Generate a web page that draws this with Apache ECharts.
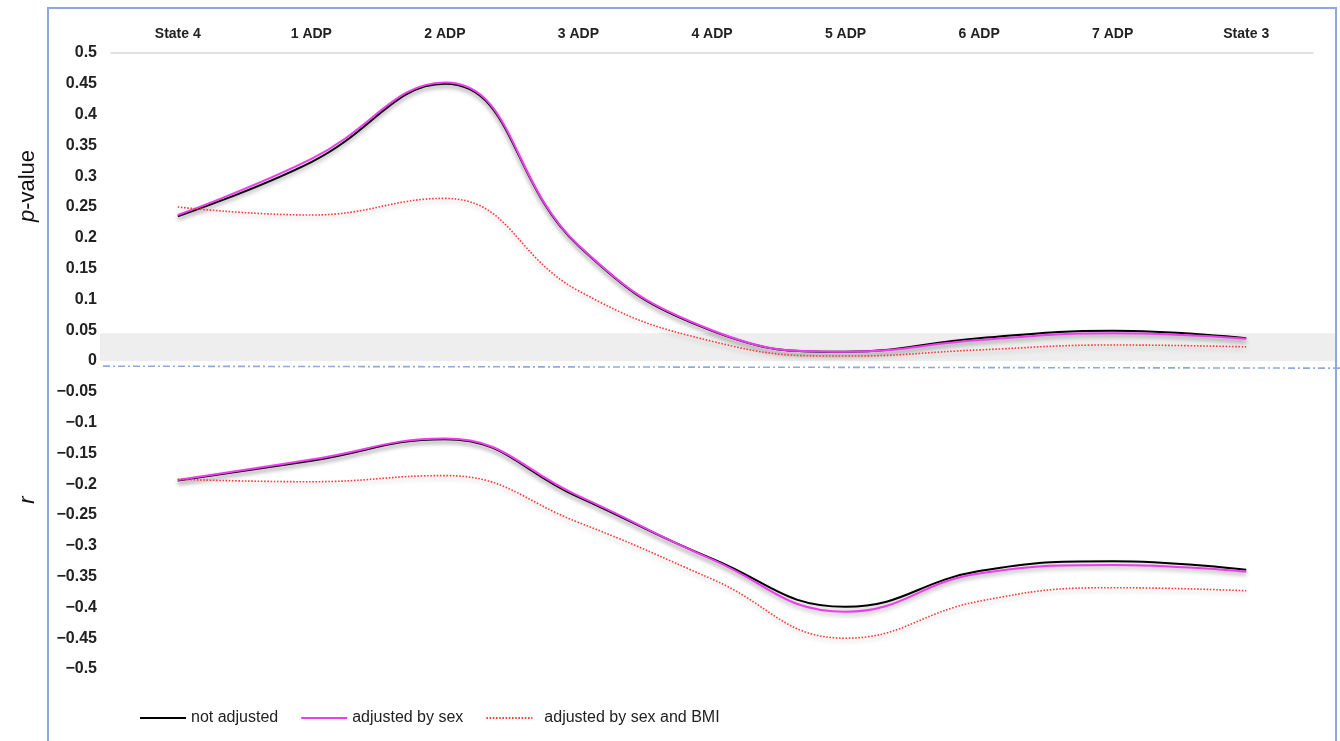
<!DOCTYPE html>
<html><head><meta charset="utf-8">
<script src="https://cdn.jsdelivr.net/npm/echarts@6/dist/echarts.min.js"></script>
<style>html,body{margin:0;padding:0;background:#fff}#c{width:1340px;height:741px}</style>
</head><body><div id="c"></div>
<script>
const categories = ['State 4','1 ADP','2 ADP','3 ADP','4 ADP','5 ADP','6 ADP','7 ADP','State 3'];
const seriesNames = ['not adjusted','adjusted by sex','adjusted by sex and BMI'];
// p-values
const pNotAdjusted = [0.235, 0.323, 0.450, 0.187, 0.049, 0.015, 0.037, 0.049, 0.037];
const pSex         = [0.237, 0.328, 0.452, 0.188, 0.050, 0.015, 0.034, 0.045, 0.036];
const pSexBmi      = [0.250, 0.237, 0.264, 0.114, 0.032, 0.008, 0.018, 0.026, 0.023];
// r values
const rNotAdjusted = [-0.194, -0.162, -0.127, -0.221, -0.321, -0.399, -0.341, -0.325, -0.339];
const rSex         = [-0.193, -0.160, -0.126, -0.219, -0.322, -0.407, -0.345, -0.331, -0.342];
const rSexBmi      = [-0.192, -0.196, -0.186, -0.262, -0.354, -0.450, -0.390, -0.368, -0.373];
// reference band and baseline
const bandRange = [0, 0.045];
const baselineValue = -0.01;

const FONT = '"Liberation Sans", Arial, sans-serif';
const chart = echarts.init(document.getElementById('c'), null, {renderer: 'canvas'});

const styles = [
  {color: '#000000', width: 2, type: 'solid'},
  {color: '#f03cf0', width: 2, type: 'solid'},
  {color: '#ff3b3b', width: 1.6, type: [1.6, 1.6]}
];
function mk(name, data, st) {
  return {
    name: name, type: 'line', data: data, smooth: 0.45,
    symbol: 'none', showSymbol: false,
    lineStyle: {color: st.color, width: st.width, type: st.type,
      shadowColor: 'rgba(0,0,0,0.28)', shadowBlur: 4, shadowOffsetY: 3},
    itemStyle: {color: st.color},
    emphasis: {disabled: true}, z: 3
  };
}
function fmt(v) {
  const s = String(+Math.abs(v).toFixed(2));
  return v < -1e-9 ? '\u2212' + s : s;
}

const option = {
  animation: false,
  backgroundColor: '#fff',
  grid: {left: 111, right: 27, top: 53, bottom: 72, containLabel: false},
  xAxis: {
    type: 'category', data: categories, position: 'top', boundaryGap: true,
    axisLine: {show: true, onZero: false, lineStyle: {color: '#d9d9d9', width: 1.5}},
    axisTick: {show: false},
    axisLabel: {fontSize: 14, fontWeight: 'bold', color: '#222', fontFamily: FONT, margin: 12}
  },
  yAxis: {
    type: 'value', min: -0.5, max: 0.5, interval: 0.05,
    axisLine: {show: false}, axisTick: {show: false}, splitLine: {show: false},
    axisLabel: {fontSize: 16, fontWeight: 'bold', color: '#222', fontFamily: FONT, margin: 14, formatter: fmt}
  },
  legend: {
    left: 134, top: 705, itemWidth: 46, itemHeight: 14, itemGap: 22,
    data: [
      {name: seriesNames[0]},
      {name: seriesNames[1]},
      {name: seriesNames[2], textStyle: {padding: [0, 0, 0, 7]}}
    ],
    itemStyle: {opacity: 0},
    textStyle: {fontSize: 16, color: '#222', fontFamily: FONT}
  },
  series: [
    mk(seriesNames[0], pNotAdjusted, styles[0]),
    mk(seriesNames[1], pSex, styles[1]),
    mk(seriesNames[2], pSexBmi, styles[2]),
    mk(seriesNames[0], rNotAdjusted, styles[0]),
    mk(seriesNames[1], rSex, styles[1]),
    mk(seriesNames[2], rSexBmi, styles[2])
  ]
};
chart.setOption(option);

const yTop = chart.convertToPixel({yAxisIndex: 0}, bandRange[1]);
const yBot = chart.convertToPixel({yAxisIndex: 0}, bandRange[0]);
const yBase = chart.convertToPixel({yAxisIndex: 0}, baselineValue);

chart.setOption({
  graphic: [
    {type: 'rect', z: 0, silent: true, shape: {x: 100, y: yTop, width: 1236, height: yBot - yTop},
      style: {fill: '#efeeef'}},
    {type: 'line', z: 1, silent: true, shape: {x1: 103, y1: yBase - 1, x2: 1340, y2: yBase + 1},
      style: {stroke: '#8eaadb', lineWidth: 1.6, lineDash: [7, 3, 2, 3]}},
    {type: 'rect', z: 10, silent: true, shape: {x: 48, y: 8, width: 1288, height: 760},
      style: {fill: 'none', stroke: '#8eaadb', lineWidth: 2}},
    {type: 'text', z: 10, x: 28, y: 186, rotation: Math.PI / 2, silent: true,
      style: {text: '{i|p}-value', fontSize: 22, fontFamily: FONT, fill: '#111', align: 'center', verticalAlign: 'middle',
        rich: {i: {fontStyle: 'italic', fontSize: 22, fontFamily: FONT, fill: '#111'}}}},
    {type: 'text', z: 10, x: 28, y: 500, rotation: Math.PI / 2, silent: true,
      style: {text: 'r', fontSize: 22, fontStyle: 'italic', fontFamily: FONT, fill: '#111', align: 'center', verticalAlign: 'middle'}}
  ]
});
</script></body></html>
